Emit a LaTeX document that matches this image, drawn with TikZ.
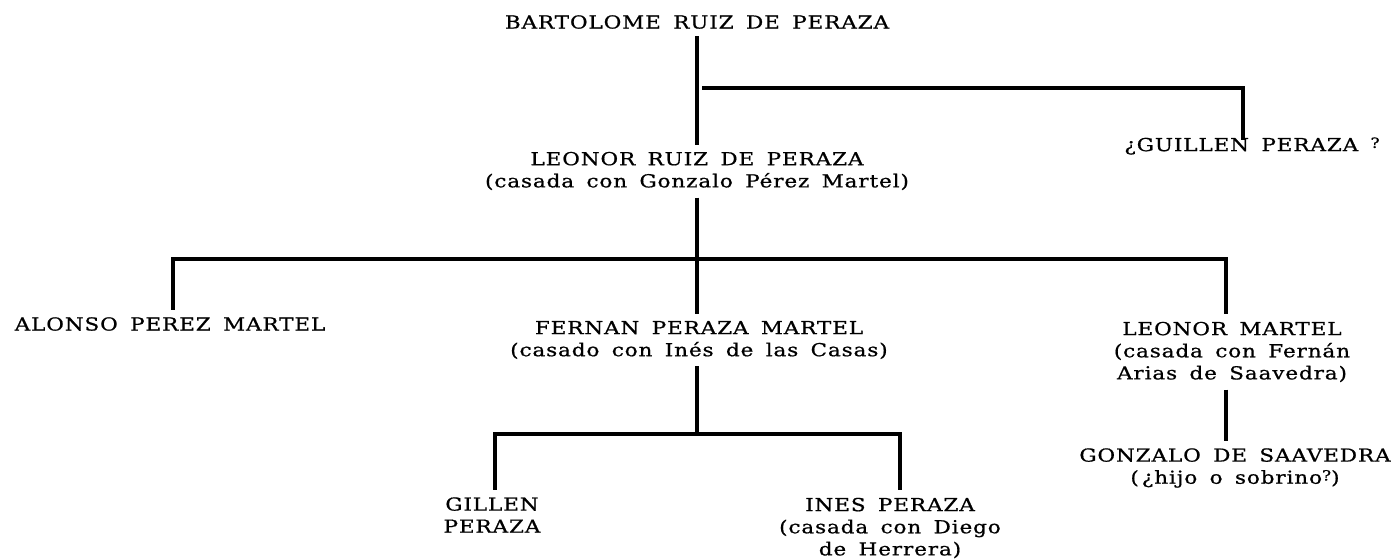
\documentclass[tikz,border=0pt]{standalone}
\usepackage{fontspec}
\setmainfont{DejaVu Serif}[FakeStretch=1.2, FakeBold=0.8, LetterSpace=5, WordSpace=1.6]
\newcommand{\smq}{\raisebox{0.35ex}{\footnotesize ?}}
\tikzset{
  person/.style={inner sep=4pt, align=center, font=\fontsize{10.2}{12.6}\selectfont},
  kin/.style={black, line width=1.8pt}
}
\begin{document}
\begin{tikzpicture}[x=0.02cm, y=-0.02cm]
\useasboundingbox (0,0) rectangle (1397,559);
\node [person] (bart) at (697,22) {BARTOLOME RUIZ DE PERAZA};
\node [person] (lrp) at (697,171) {LEONOR RUIZ DE PERAZA\\(casada con Gonzalo Pérez Martel)};
\node [person] (gui) at (1252,146) {¿GUILLEN PERAZA\ \smq};
\node [person] (alonso) at (170,324) {ALONSO PEREZ MARTEL};
\node [person] (fernan) at (699,340) {FERNAN PERAZA MARTEL\\(casado con Inés de las Casas)};
\node [person] (lm) at (1232,352) {LEONOR MARTEL\\(casada con Fernán\\Arias de Saavedra)};
\node [person] (gonz) at (1235,468) {GONZALO DE SAAVEDRA\\(\,¿hijo o sobrino\smq)};
\node [person] (gil) at (492,515) {GILLEN\\PERAZA};
\node [person] (ines) at (890,528) {INES PERAZA\\(casada con Diego\\de Herrera)};
\coordinate (j1) at (702,88);
\coordinate (j2) at (697,259);
\coordinate (j3) at (697,434);
\draw [kin] (bart.south) -- (lrp.north);
\draw [kin] (j1) -| (1243,140);
\draw [kin] (lrp.south) -- (j2);
\draw [kin] (alonso.north -| 173,0) |- (1226,259) -- (lm.north -| 1226,0);
\draw [kin] (j2) -- (fernan.north -| j2);
\draw [kin] (lm.south -| 1226,0) -- (gonz.north -| 1226,0);
\draw [kin] (fernan.south -| j3) -- (j3);
\draw [kin] (gil.north -| 495,0) |- (j3) -| (ines.north -| 900,0);
\end{tikzpicture}
\end{document}
